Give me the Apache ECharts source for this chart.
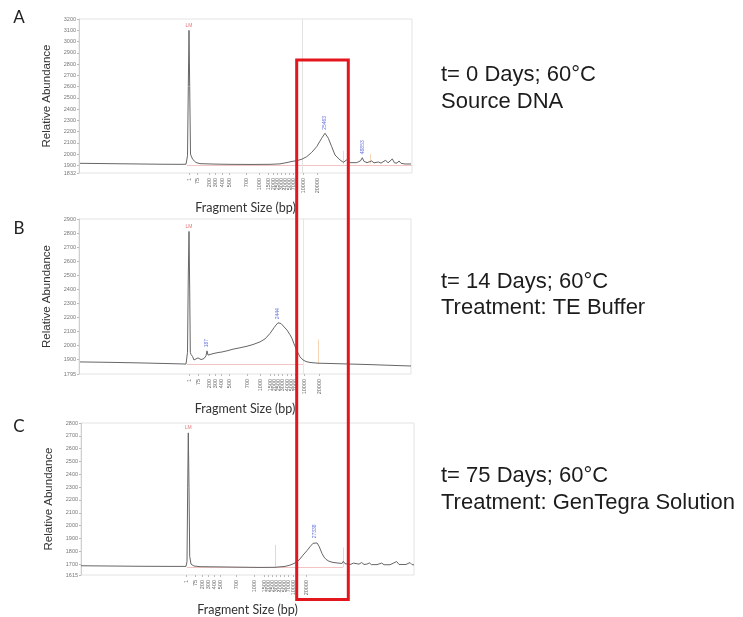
<!DOCTYPE html>
<html><head><meta charset="utf-8">
<script src="https://cdn.jsdelivr.net/npm/echarts@6/dist/echarts.min.js"></script>
<style>html,body{margin:0;padding:0;background:#fff}#c{width:743px;height:617px}</style>
</head><body><div id="c"></div>
<script>
// ---- Fragment-size ladder (tick labels) ----
const ladderLabels = ['1','75','200','300','400','500','700','1000','1500','2000','2500','3000','4000','5000','7000','10000','20000'];
// ladder positions on the migration axis (scan units) for each run
const ladderPosA = [110, 118.7, 130, 136, 143, 150, 167, 180, 189.7, 194, 198, 202, 206, 210.3, 214.3, 224.3, 238.3];
const ladderPosB = [110, 119, 130, 136, 142.7, 150, 168.7, 181.7, 191, 195, 199.5, 203.5, 208, 212, 216, 225, 240];
const ladderPosC = [105.7, 114, 121.3, 127.3, 133, 139.7, 155.7, 173.7, 183.3, 187.3, 191.3, 195.3, 199.3, 203.3, 207, 212.3, 225];

// ---- y tick labels ----
const yTicksA = [1832, 1900, 2000, 2100, 2200, 2300, 2400, 2500, 2600, 2700, 2800, 2900, 3000, 3100, 3200];
const yTicksB = [1795, 1900, 2000, 2100, 2200, 2300, 2400, 2500, 2600, 2700, 2800, 2900];
const yTicksC = [1615, 1700, 1800, 1900, 2000, 2100, 2200, 2300, 2400, 2500, 2600, 2700, 2800];

// ---- traces: [migration, relative abundance] ----
const traceA = [[1,1918],[21,1916],[41,1914],[61,1912],[81,1910],[101,1909],[107,1910],[108.5,1985],[109.3,2600],[110,3099],[110.7,2600],[111.5,2000],[112.5,1975],[114,1950],[117,1925],[121,1915],[136,1911],[151,1909],[171,1908],[191,1909],[201,1913],[208,1925],[213,1935],[218,1942],[223,1955],[227.7,1977],[232.7,2015],[237.7,2066],[242.7,2141],[246,2185],[249.3,2141],[252.7,2066],[256,1992],[261,1948],[264.3,1927],[267.7,1948],[271,1924],[277.7,1924],[281.5,1940],[283.3,1968],[285,1935],[288,1924],[292.7,1939],[295,1922],[299.3,1930],[302,1920],[304,1922],[306.7,1945],[309,1922],[311,1921],[313.3,1957],[315.5,1922],[318,1920],[320,1939],[322,1918],[326,1912],[332,1912]];
const traceB = [[1,1881],[31,1878],[61,1874],[91,1869],[107,1866],[108.5,1950],[109.3,2500],[110,2811],[110.7,2400],[111.3,1950],[112,1935],[113.5,1920],[115,1895],[117,1905],[119,1910],[122,1898],[125,1905],[127,1925],[128,1960],[129,1930],[131,1928],[134,1940],[139,1948],[143,1952],[149,1962],[154,1972],[161,1982],[168,1993],[174,2005],[181,2024],[186,2045],[191,2084],[195,2125],[197,2144],[199,2160],[202,2155],[204,2144],[208,2108],[211,2075],[213,2048],[215,2010],[217,1977],[219,1945],[221,1917],[224,1895],[227,1884],[231,1877],[239,1872],[251,1870],[271,1866],[291,1862],[311,1857],[332,1852]];
const traceC = [[0,1687],[29,1685],[59,1683],[89,1682],[105,1682],[106,1720],[106.7,2300],[107.3,2723],[108,2300],[108.7,1760],[110,1700],[113,1685],[119,1680],[139,1678],[159,1676],[179,1674],[194,1675],[204,1682],[209,1692],[213,1705],[216,1718],[219,1740],[222,1770],[226,1805],[229,1835],[232,1862],[234,1874],[236,1865],[238,1840],[241,1783],[243,1755],[245,1737],[248,1722],[252,1713],[257,1708],[261,1705],[262.3,1722],[264,1703],[267,1700],[270,1698],[272.3,1708],[274,1697],[278,1700],[280.7,1712],[283,1697],[286,1700],[288.3,1709],[290.5,1696],[296,1696],[300.7,1708],[303,1695],[309,1695],[315.7,1720],[318,1697],[321,1697],[323,1712],[325,1697],[327,1698],[329,1712],[331,1696],[333,1694]];

// ---- called peaks: [migration, abundance, size label] ----
const peaksA = [[246, 2185, '25463'], [283.3, 1968, '48853']];
const peaksB = [[128, 1960, '187'], [199, 2160, '2444']];
const peaksC = [[234, 1874, '27338']];
const markerA = [[110, 3099, 'LM']];
const markerB = [[110, 2811, 'LM']];
const markerC = [[107.3, 2723, 'LM']];

// ---- baseline / region guide lines ----
const baselineA = [108, 333, 1903];
const baselineB = [108, 224, 1868];
const baselineC = [106, 262, 1677];
const guidesA = [[223, 1832, 3200, '#e2e2e2'], [264, 1910, 2030, '#f6d6b6'], [291, 1915, 2000, '#f6d6b6']];
const guidesB = [[224, 1795, 2900, '#e6e6e6'], [239, 1868, 2040, '#f6d6b6']];
const guidesC = [[194, 1677, 1850, '#f3d0d0'], [262, 1677, 1830, '#f6d6b6']];

const panelTitles = [['t= 0 Days; 60°C', 'Source DNA'], ['t= 14 Days; 60°C', 'Treatment: TE Buffer'], ['t= 75 Days; 60°C', 'Treatment: GenTegra Solution']];
const panelLetters = ['A', 'B', 'C'];

const panels = [
  {grid:{left:79, top:19, width:333, height:154}, ladder:ladderPosA, yTicks:yTicksA, trace:traceA, peaks:peaksA, marker:markerA, base:baselineA, guides:guidesA},
  {grid:{left:79, top:219, width:332, height:155}, ladder:ladderPosB, yTicks:yTicksB, trace:traceB, peaks:peaksB, marker:markerB, base:baselineB, guides:guidesB},
  {grid:{left:81, top:423, width:333, height:152}, ladder:ladderPosC, yTicks:yTicksC, trace:traceC, peaks:peaksC, marker:markerC, base:baselineC, guides:guidesC}
];

function labelFor(pos, v) {
  let best = 0;
  for (let i = 1; i < pos.length; i++) if (Math.abs(pos[i] - v) < Math.abs(pos[best] - v)) best = i;
  return ladderLabels[best];
}

const grid = [], xAxis = [], yAxis = [], series = [];
panels.forEach((p, i) => {
  grid.push(Object.assign({show:true, borderColor:'#e3e3e3', borderWidth:1, backgroundColor:'transparent'}, p.grid));
  xAxis.push({
    gridIndex:i, type:'value', min:0, max:p.grid.width,
    axisLine:{show:false}, splitLine:{show:false},
    axisTick:{show:true, customValues:p.ladder, length:2, lineStyle:{color:'#bbb'}},
    axisLabel:{customValues:p.ladder, rotate:90, fontSize:5.5, color:'#666', margin:5, fontFamily:'Liberation Sans',
      formatter:(v) => labelFor(p.ladder, v)},
    name:'Fragment Size (bp)', nameLocation:'middle', nameGap:28,
    nameTextStyle:{fontFamily:'Lato', fontSize:12.5, color:'#333'}
  });
  yAxis.push({
    gridIndex:i, type:'value', min:p.yTicks[0], max:p.yTicks[p.yTicks.length-1],
    axisLine:{show:true, lineStyle:{color:'#cfcfcf'}},
    axisTick:{show:true, customValues:p.yTicks, length:2, lineStyle:{color:'#bbb'}},
    axisLabel:{customValues:p.yTicks, fontSize:5.5, color:'#777', margin:3, fontFamily:'Liberation Sans',
      formatter:(v) => String(Math.round(v))},
    splitLine:{show:false},
    name:'Relative Abundance', nameLocation:'middle', nameGap:26, nameRotate:90,
    nameTextStyle:{fontFamily:'Liberation Sans', fontSize:11.5, color:'#333'}
  });
  const ml = [[{coord:[p.base[0], p.base[2]], lineStyle:{color:'#f4c4c4', width:1, type:'solid'}}, {coord:[p.base[1], p.base[2]]}]];
  p.guides.forEach(g => ml.push([{coord:[g[0], g[1]], lineStyle:{color:g[3], width:1, type:'solid'}}, {coord:[g[0], g[2]]}]));
  series.push({
    type:'line', xAxisIndex:i, yAxisIndex:i, data:p.trace, showSymbol:false, symbol:'none',
    lineStyle:{color:'#666666', width:1}, z:3, silent:true,
    markLine:{silent:true, symbol:['none','none'], label:{show:false}, data:ml, z:1}
  });
  series.push({
    type:'scatter', xAxisIndex:i, yAxisIndex:i, symbolSize:1, itemStyle:{color:'rgba(0,0,0,0)'}, silent:true, z:5,
    data:p.peaks.map(d => ({value:[d[0], d[1]], name:d[2]})),
    label:{show:true, formatter:'{b}', position:'top', rotate:90, align:'left', verticalAlign:'middle', distance:3,
      fontSize:5, color:'#3d4fd6', fontFamily:'Liberation Sans'}
  });
  series.push({
    type:'scatter', xAxisIndex:i, yAxisIndex:i, symbolSize:1, itemStyle:{color:'rgba(0,0,0,0)'}, silent:true, z:5,
    data:p.marker.map(d => ({value:[d[0], d[1]], name:d[2]})),
    label:{show:true, formatter:'{b}', position:'top', distance:2, fontSize:5, color:'#e05555', fontFamily:'Liberation Sans'}
  });
});

const titleY = [[75, 102], [281.5, 308], [476, 503]];
const letterY = [18, 229, 427];
const graphic = [];
panelTitles.forEach((t, i) => {
  t.forEach((line, j) => graphic.push({type:'text', x:441, y:titleY[i][j], z:50,
    style:{text:line, font:'22px "Liberation Sans", Arial, sans-serif', fill:'#1c1c1c', align:'left', verticalAlign:'middle'}}));
  graphic.push({type:'text', x:19, y:letterY[i], z:50,
    style:{text:panelLetters[i], font:'17px Lato, sans-serif', fill:'#222', align:'center', verticalAlign:'middle'}});
});
graphic.push({type:'rect', z:100, shape:{x:296.7, y:60, width:51.6, height:539.5},
  style:{fill:'none', stroke:'#e3161d', lineWidth:3}});

const chart = echarts.init(document.getElementById('c'), null, {renderer:'canvas'});
chart.setOption({animation:false, backgroundColor:'#fff', grid, xAxis, yAxis, series, graphic});
</script>
</body></html>
